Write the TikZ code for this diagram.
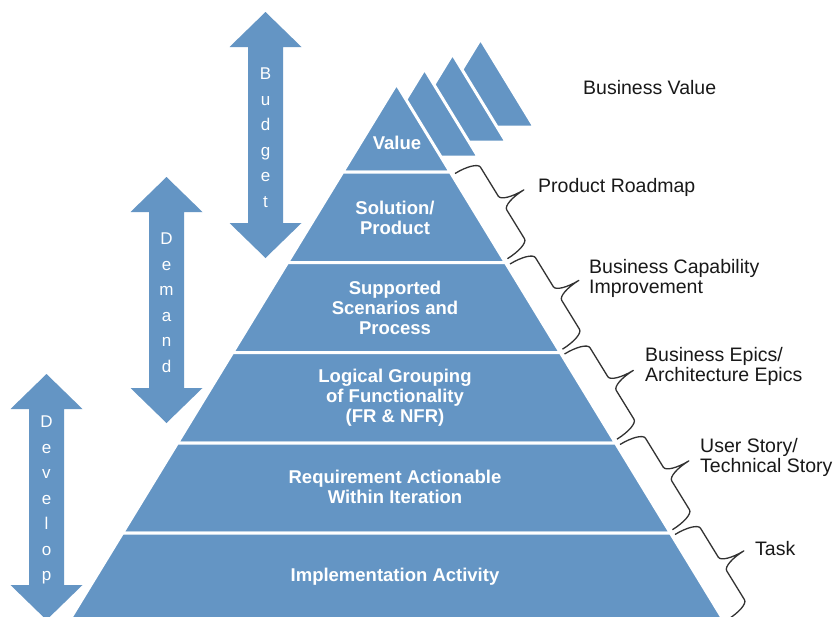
\documentclass[tikz,border=0pt]{standalone}
\usepackage{fontspec}
\setmainfont{Liberation Sans}
\definecolor{pyrblue}{RGB}{100,149,196}
\definecolor{bracegray}{RGB}{50,50,50}
\tikzset{
  layer/.style={fill=pyrblue, draw=white, line width=3pt, line join=miter},
  arrowshape/.style={fill=pyrblue, draw=none},
  layertext/.style={text=white, align=center, inner sep=0pt, font=\bfseries\fontsize{18.5}{20}\selectfont},
  arrowtext/.style={text=white, align=center, inner sep=0pt, anchor=north, font=\fontsize{17}{25.5}\selectfont},
  lbl/.style={text=black!90, align=left, inner sep=0pt, anchor=west, font=\fontsize{19.5}{20}\selectfont},
  bracestyle/.style={draw=bracegray, line width=1.3pt, line join=round}
}
\newcommand{\pyrbrace}[2]{%
  \begin{scope}[shift={(#1,#2)}, x={(0.524pt,-0.852pt)}, y={(0.852pt,0.524pt)}]
    \draw[bracestyle] (0,0) .. controls (0,13.75) and (3.6,25) .. (8,25) -- (42,25)
      .. controls (46.4,25) and (50,36.25) .. (50,50)
      .. controls (50,36.25) and (53.6,25) .. (58,25) -- (92,25)
      .. controls (96.4,25) and (100,13.75) .. (100,0);
  \end{scope}}
\newcommand{\dblarrow}[3]{% cx, top, bottom
  \fill[arrowshape] (#1,#2) -- ({#1+36},{#2+35}) -- ({#1+17.5},{#2+35}) -- ({#1+17.5},{#3-35})
    -- ({#1+36},{#3-35}) -- (#1,#3) -- ({#1-36},{#3-35}) -- ({#1-17.5},{#3-35})
    -- ({#1-17.5},{#2+35}) -- ({#1-36},{#2+35}) -- cycle;}
\begin{document}
\begin{tikzpicture}[x=1pt,y=-1pt]
\useasboundingbox (0,0) rectangle (837,616);
\fill[white] (0,0) rectangle (837,616);

% stacked triangles behind the Value layer
\foreach \k in {3,2,1} {
  \draw[layer] ({396.5+28*\k},{84-15*\k}) -- ({342.8+28*\k},{172-15*\k}) -- ({450.2+28*\k},{172-15*\k}) -- cycle;
}
% pyramid layers
\draw[layer] (396.5,84) -- (342.8,172) -- (450.2,172) -- cycle;
\draw[layer] (342.8,172) -- (287.6,262.5) -- (505.4,262.5) -- (450.2,172) -- cycle;
\draw[layer] (287.6,262.5) -- (232.7,352.5) -- (560.3,352.5) -- (505.4,262.5) -- cycle;
\draw[layer] (232.7,352.5) -- (177.5,443) -- (615.5,443) -- (560.3,352.5) -- cycle;
\draw[layer] (177.5,443) -- (122.6,533) -- (670.4,533) -- (615.5,443) -- cycle;
\draw[layer] (122.6,533) -- (67.7,623) -- (725.3,623) -- (670.4,533) -- cycle;

\node[layertext] (value) at (397,143) {Value};
\node[layertext] (solution) at (395,218) {Solution/\\Product};
\node[layertext] (scenarios) at (395,308) {Supported\\Scenarios and\\Process};
\node[layertext] (logical) at (395,398) {Logical Grouping\\of Functionality\\(FR \& NFR)};
\node[layertext] (requirement) at (395,487) {Requirement Actionable\\Within Iteration};
\node[layertext] (implementation) at (395,577) {Implementation Activity};

% double arrows
\dblarrow{265.5}{12}{258}
\dblarrow{166.5}{177}{423}
\dblarrow{46.5}{374}{620}
\node[arrowtext] (budget) at (265.5,67.8) {B\\u\\d\\g\\e\\t};
\node[arrowtext] (demand) at (166.5,232.8) {D\\e\\m\\a\\n\\d};
\node[arrowtext] (develop) at (46.5,415.8) {D\\e\\v\\e\\l\\o\\p};

% braces
\pyrbrace{455}{173.5}
\pyrbrace{510}{264}
\pyrbrace{564.5}{354}
\pyrbrace{620}{444.5}
\pyrbrace{675}{534.5}

% labels
\node[lbl] (bv) at (583,88) {Business Value};
\node[lbl] (pr) at (538,187) {Product Roadmap};
\node[lbl] (bc) at (589,278) {Business Capability\\Improvement};
\node[lbl] (be) at (645,366) {Business Epics/\\Architecture Epics};
\node[lbl] (us) at (700,457) {User Story/\\Technical Story};
\node[lbl] (task) at (755,549) {Task};
\end{tikzpicture}
\end{document}
